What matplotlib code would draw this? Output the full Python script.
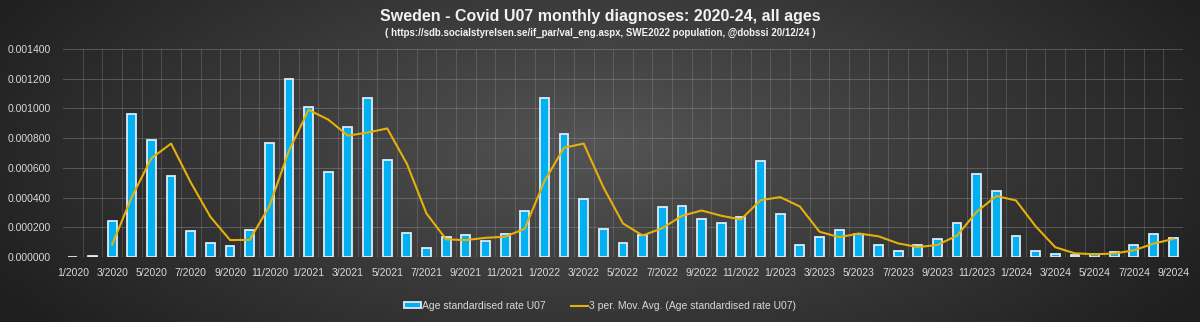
import numpy as np
import pandas as pd
import matplotlib
matplotlib.use("Agg")
import matplotlib.pyplot as plt
from matplotlib.ticker import FuncFormatter

# monthly data, 1/2020 .. 9/2024
months = [f"{m}/{y}" for y in range(2020, 2025) for m in range(1, 13)][:57]
rate_u07 = [
    0.0, 0.000005, 0.000245, 0.000962, 0.000787, 0.000542, 0.000178, 0.000092, 0.000072, 0.000182, 0.000769, 0.001196,
    0.001007, 0.000571, 0.000872, 0.001070, 0.000654, 0.000160, 0.000063, 0.000133, 0.000146, 0.000108, 0.000155, 0.000308,
    0.001070, 0.000829, 0.000391, 0.000189, 0.000097, 0.000148, 0.000337, 0.000346, 0.000256, 0.000231, 0.000270, 0.000647,
    0.000292, 0.000081, 0.000137, 0.000182, 0.000155, 0.000081, 0.000040, 0.000079, 0.000124, 0.000229, 0.000560, 0.000443,
    0.000139, 0.000038, 0.000020, 0.000016, 0.000020, 0.000034, 0.000081, 0.000155, 0.000128,
]
# 3 period moving average, as the Excel trendline does it
mov_avg = pd.Series(rate_u07).rolling(3).mean()

plt.rcParams["font.family"] = ["Liberation Sans", "DejaVu Sans"]

W, H = 1200, 322
fig = plt.figure(figsize=(W / 100, H / 100), dpi=100)

# radial grey background
bg = fig.add_axes([0, 0, 1, 1], zorder=-10)
yy, xx = np.mgrid[0:H, 0:W]
r = np.sqrt(((xx - W * 0.5) / (W * 0.55)) ** 2 + ((yy - H * 0.45) / (H * 0.9)) ** 2)
shade = np.clip(0.33 - 0.2 * r, 0.12, 0.33)
bg.imshow(np.dstack([shade] * 3), aspect="auto", extent=[0, 1, 0, 1])
bg.axis("off")

ax = fig.add_axes([63 / W, 1 - 257 / H, (1183 - 63) / W, (257 - 49) / H])
ax.patch.set_alpha(0)
x = np.arange(len(months))

bars = ax.bar(x, rate_u07, width=0.45, color="#00B0F0", edgecolor="#DDEBF7", linewidth=1.3, zorder=3)
line, = ax.plot(x, mov_avg, color="#E6B00A", lw=1.5, zorder=4)

ax.set_xlim(-0.5, len(months) - 0.5)
ax.set_ylim(0, 0.0014)
ax.set_yticks(np.arange(0, 0.00141, 0.0002))
ax.yaxis.set_major_formatter(FuncFormatter(lambda v, p: f"{v:.6f}"))
ax.set_xticks(x[::2])
ax.set_xticklabels(months[::2])
ax.set_xticks(x[:-1] + 0.5, minor=True)
ax.grid(axis="y", color="#9a9a9a", lw=0.7, alpha=0.4, zorder=0)
ax.grid(axis="x", which="minor", color="#9a9a9a", lw=0.7, alpha=0.3, zorder=0)
ax.tick_params(axis="both", which="both", length=0, colors="#D9D9D9", labelsize=7.5)
ax.tick_params(axis="x", pad=8)
ax.tick_params(axis="y", pad=9)
for s in ax.spines.values():
    s.set_visible(False)
ax.axhline(0, color="#8a8a8a", lw=0.8, zorder=2)

fig.text(0.5, 1 - 16 / H, "Sweden - Covid U07 monthly diagnoses: 2020-24, all ages",
         ha="center", va="center", fontsize=11.5, fontweight="bold", color="#F2F2F2")
fig.text(0.5, 1 - 33 / H, "( https://sdb.socialstyrelsen.se/if_par/val_eng.aspx, SWE2022 population, @dobssi 20/12/24 )",
         ha="center", va="center", fontsize=7, fontweight="bold", color="#F2F2F2")

fig.legend([bars, line], ["Age standardised rate U07", "3 per. Mov. Avg. (Age standardised rate U07)"],
           loc="center", bbox_to_anchor=(0.5, 1 - 306 / H), ncol=2, frameon=False,
           fontsize=7.5, labelcolor="#D9D9D9", handlelength=1.6, handleheight=0.5,
           handletextpad=0.1, columnspacing=2.5)

fig.savefig("out.png", dpi=100)
